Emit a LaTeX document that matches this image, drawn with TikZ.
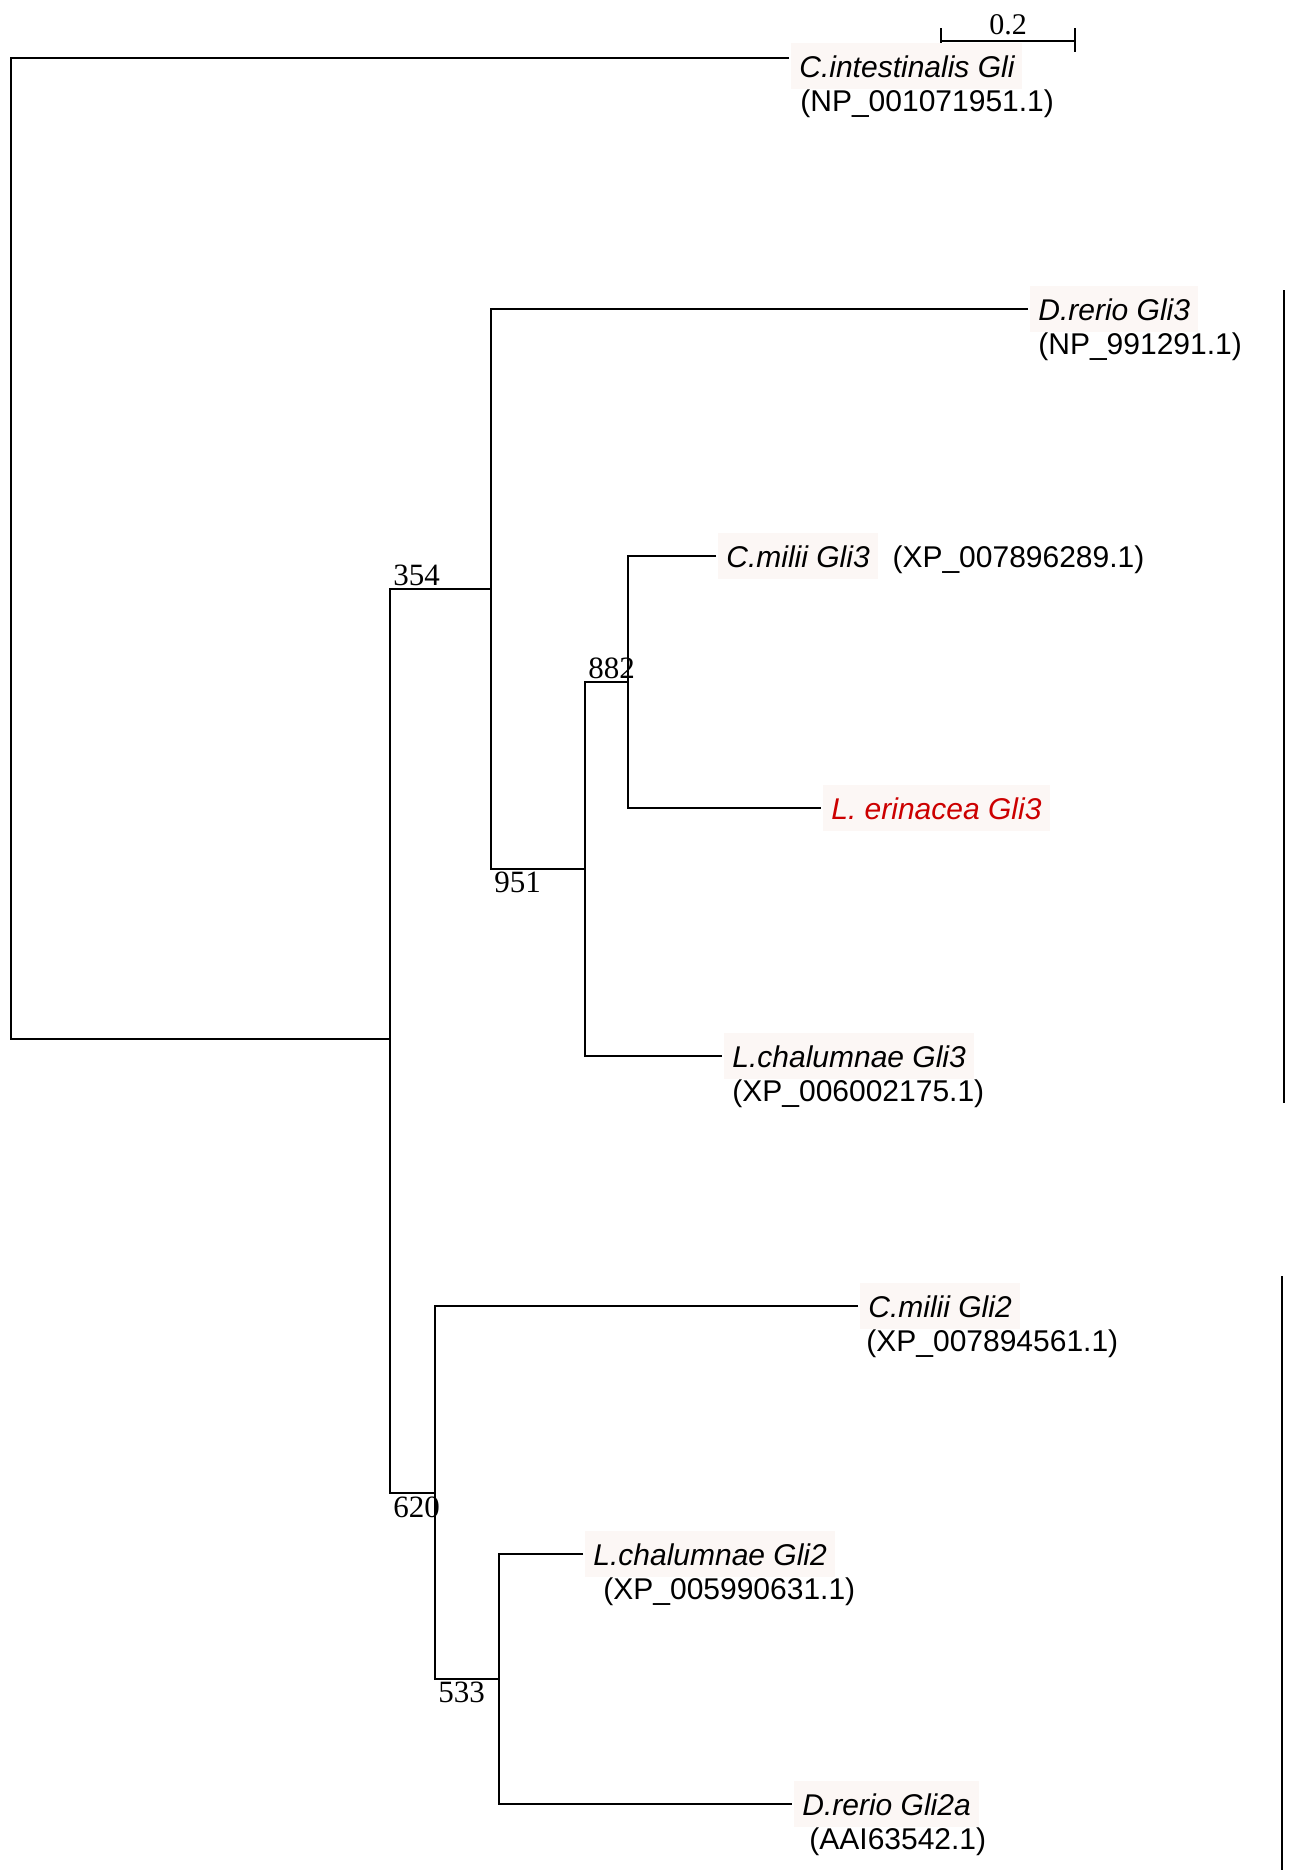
\documentclass[tikz,border=0pt]{standalone}
\usepackage{fontspec}
\setmainfont{Liberation Serif}
\setsansfont{Liberation Sans}
\usepackage{tikz}
\usetikzlibrary{positioning,calc}
\definecolor{labelbg}{RGB}{252,247,245}
\definecolor{lered}{RGB}{204,0,0}
\tikzset{
    branch/.style={
        line width=1.15pt,
        black
    },
    % taxon name in a pale box
    taxon/.style={
        anchor=west,
        xshift=1pt,
        fill=labelbg,
        inner xsep=4pt,
        inner ysep=6pt,
        text height=11pt,
        text depth=0pt,
        font=\sffamily\itshape\fontsize{15}{17}\selectfont
    },
    accession/.style={
        anchor=base west,
        inner sep=0pt,
        font=\sffamily\fontsize{15}{17}\selectfont
    },
    boot/.style={
        inner sep=1.5pt,
        font=\fontsize{15.5}{17}\selectfont
    }
}

\begin{document}
\begin{tikzpicture}[x=0.5pt,y=-0.5pt]
   \useasboundingbox (0,0) rectangle (1295,1870);
   \path
    (11,548) coordinate (r)
    (789,58) coordinate (ci)
    (390,1039) coordinate (n1)
    (491,589) coordinate (n2)
    (1028,309) coordinate (dr3)
    (585,869) coordinate (n3)
    (628,682) coordinate (n4)
    (716,556) coordinate (cm3)
    (821,808) coordinate (le3)
    (722,1056) coordinate (lc3)
    (435,1493) coordinate (n5)
    (858,1306) coordinate (cm2)
    (499,1679) coordinate (n6)
    (583,1554) coordinate (lc2)
    (792,1804) coordinate (dr2a);

    % scale bar
    \path (941,41) coordinate (s1) (1075,41) coordinate (s2);
    \draw[branch] ([yshift=6.5pt]s1) -- ([yshift=-5.5pt]s1) (s1) -- (s2) ([yshift=6.5pt]s2) -- ([yshift=-5.5pt]s2);
    \node[inner sep=1pt, anchor=south, font=\fontsize{15}{17}\selectfont] (sb) at ($(s1)!0.5!(s2)+(0,-4)$) {0.2};

    % branches
    \draw[branch] (ci) -| (r) |- (n1);
    \draw[branch] (n2) -| (n1) |- (n5);
    \draw[branch] (dr3) -| (n2) |- (n3);
    \draw[branch] (n4) -| (n3) |- (lc3);
    \draw[branch] (cm3) -| (n4) |- (le3);
    \draw[branch] (cm2) -| (n5) |- (n6);
    \draw[branch] (lc2) -| (n6) |- (dr2a);

    % taxa
    \node[taxon, yshift=-4pt] (ci-name) at (ci) {C.intestinalis Gli};
    \node[accession] (ci-acc) at ([xshift=4.5pt,yshift=-17pt]ci-name.base west) {(NP\_001071951.1)};
    \node[taxon] (dr3-name) at (dr3) {D.rerio Gli3};
    \node[accession] (dr3-acc) at ([xshift=4pt,yshift=-17pt]dr3-name.base west) {(NP\_991291.1)};
    \node[taxon] (cm3-name) at (cm3) {C.milii Gli3};
    \node[accession] (cm3-acc) at ([xshift=7pt]cm3-name.base east) {(XP\_007896289.1)};
    \node[taxon, text=lered] (le3-name) at (le3) {L. erinacea Gli3};
    \node[taxon] (lc3-name) at (lc3) {L.chalumnae Gli3};
    \node[accession] (lc3-acc) at ([xshift=4pt,yshift=-17pt]lc3-name.base west) {(XP\_006002175.1)};
    \node[taxon] (cm2-name) at (cm2) {C.milii Gli2};
    \node[accession] (cm2-acc) at ([xshift=3pt,yshift=-17pt]cm2-name.base west) {(XP\_007894561.1)};
    \node[taxon] (lc2-name) at (lc2) {L.chalumnae Gli2};
    \node[accession] (lc2-acc) at ([xshift=9pt,yshift=-17pt]lc2-name.base west) {(XP\_005990631.1)};
    \node[taxon] (dr2a-name) at (dr2a) {D.rerio Gli2a};
    \node[accession] (dr2a-acc) at ([xshift=7.5pt,yshift=-17pt]dr2a-name.base west) {(AAI63542.1)};

    % bootstrap values
    \node[boot, anchor=south west] (b354) at (n1 |- n2) {354};
    \node[boot, anchor=south west] (b882) at (n3 |- n4) {882};
    \node[boot, anchor=north west] (b951) at (n2 |- n3) {951};
    \node[boot, anchor=north west] (b620) at (n1 |- n5) {620};
    \node[boot, anchor=north west] (b533) at (n5 |- n6) {533};

    % clade bars
    \draw[branch] (1284,290) -- (1284,1103);
    \draw[branch] (1282,1276) -- (1282,1870);
\end{tikzpicture}
\end{document}
